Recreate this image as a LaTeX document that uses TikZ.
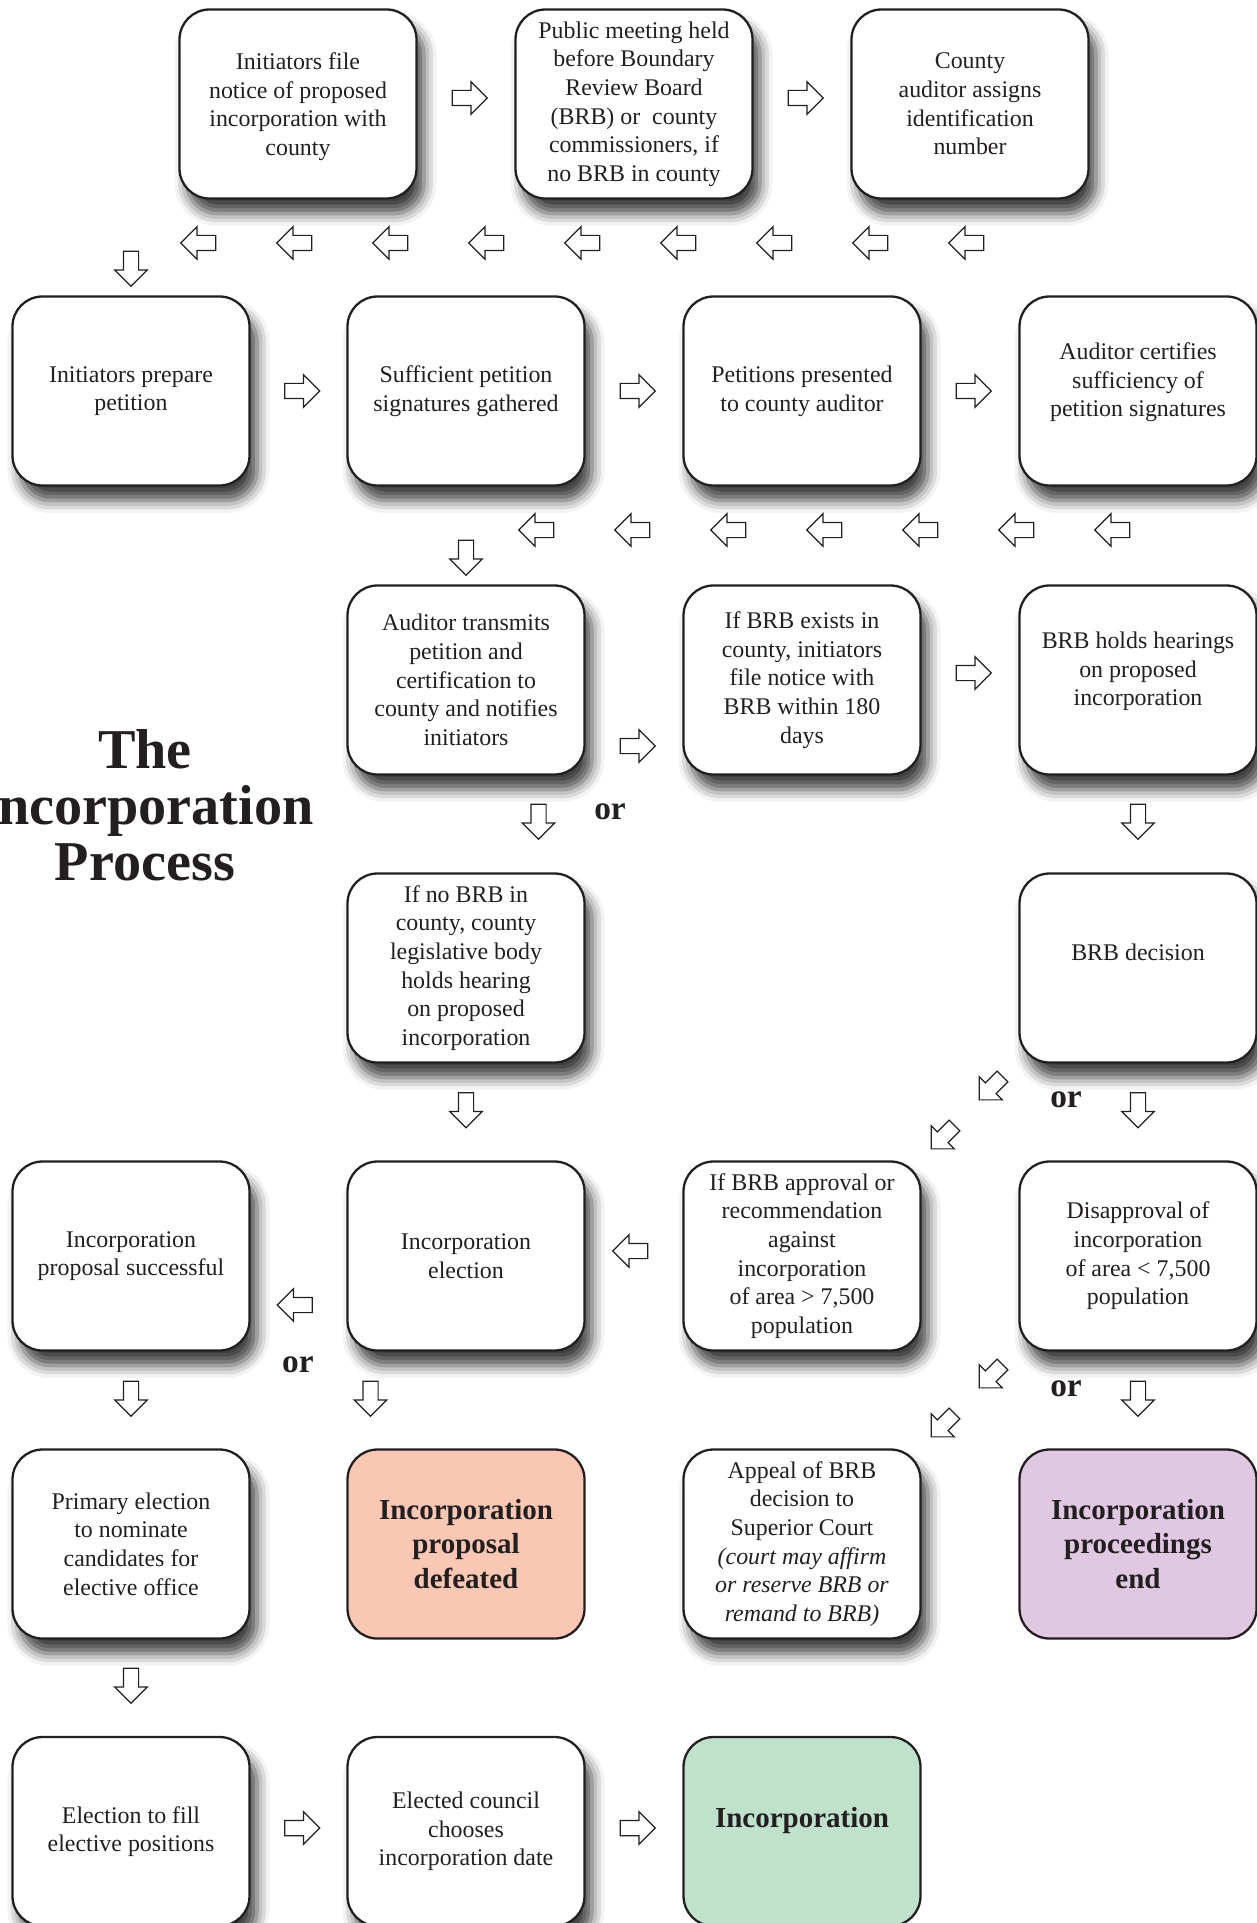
\documentclass[tikz,border=0pt]{standalone}
\usepackage{fontspec}
\setmainfont{Liberation Serif}
\usetikzlibrary{shapes.arrows, positioning, calc, shadows.blur}
\definecolor{inkgray}{RGB}{35, 31, 32}
\definecolor{defeatpink}{RGB}{249, 199, 180}
\definecolor{endlilac}{RGB}{224, 200, 226}
\definecolor{incgreen}{RGB}{192, 226, 204}
\newcommand{\boxfont}{\fontsize{13.6}{16.3}\selectfont}
\newcommand{\finalfont}{\fontsize{16.5}{19.8}\selectfont\bfseries}
\newcommand{\orfont}{\fontsize{19}{22}\selectfont\bfseries}
\newcommand{\headfont}{\fontsize{32}{32}\selectfont\bfseries}

\begin{document}
\begin{tikzpicture}[
  box/.style={draw=inkgray, line width=1.3pt, rounded corners=0.6cm, minimum width=4.74cm, minimum height=3.78cm, align=center, font=\boxfont, text=inkgray},
  plain/.style={box, fill=white, blur shadow={shadow xshift=0.15cm, shadow yshift=-0.3cm, shadow blur radius=0.25cm, shadow opacity=75}},
  goal/.style={box, font=\finalfont},
  blk/.style={single arrow, draw=inkgray, fill=white, line width=0.7pt, inner sep=0.14cm, single arrow head extend=0.175cm, minimum height=0.7cm},
  rarr/.style={blk},
  larr/.style={blk, rotate=180},
  darr/.style={blk, rotate=-90},
  sarr/.style={blk, rotate=225, minimum height=0.66cm},
  ortext/.style={font=\orfont, text=inkgray}
]
  \useasboundingbox (0, 0) rectangle (25.12, -38.46);

  % title
  \node[font=\headfont, text=inkgray, align=center] (title) at (2.9, -16.1) {The\\Incorporation\\Process};

  % top row
  \node[plain, text depth=0.0cm] (notice) at (5.96, -2.08) {Initiators file\\notice of proposed\\incorporation with\\county};
  \node[plain] (meeting) at (12.68, -2.08) {Public meeting held\\before Boundary\\Review Board\\(BRB) or\ \ county\\commissioners, if\\no BRB in county};
  \node[plain, text depth=0.0cm] (idnum) at (19.40, -2.08) {County\\auditor assigns\\identification\\number};
  \node[rarr, yshift=0.12cm] (a1) at ($(notice.east)!0.5!(meeting.west)$) {};
  \node[rarr, yshift=0.12cm] (a2) at ($(meeting.east)!0.5!(idnum.west)$) {};
  \foreach \i in {0,...,8}
    \node[larr] (b\i) at (4.04+1.92*\i, -4.86) {};
  \node[darr] (b9) at (2.62, -5.30) {};

  % petitions
  \node[plain] (prepare) at (2.62, -7.82) {Initiators prepare\\petition};
  \node[plain] (gather) at (9.32, -7.82) {Sufficient petition\\signatures gathered};
  \node[plain] (present) at (16.04, -7.82) {Petitions presented\\to county auditor};
  \node[plain, text depth=0.45cm] (certify) at (22.76, -7.82) {Auditor certifies\\sufficiency of\\petition signatures};
  \node[rarr] (a3) at ($(prepare.east)!0.5!(gather.west)$) {};
  \node[rarr] (a4) at ($(gather.east)!0.5!(present.west)$) {};
  \node[rarr] (a5) at ($(present.east)!0.5!(certify.west)$) {};
  \foreach \i in {0,...,6}
    \node[larr] (c\i) at (10.8+1.92*\i, -10.6) {};
  \node[darr] (c7) at (9.32, -11.08) {};

  % hearings
  \node[plain] (transmit) at (9.32, -13.6) {Auditor transmits\\petition and\\certification to\\county and notifies\\initiators};
  \node[plain] (brbfile) at (16.04, -13.6) {If BRB exists in\\county, initiators\\file notice with\\BRB within 180\\days};
  \node[plain, text depth=0.45cm] (hearing) at (22.76, -13.6) {BRB holds hearings\\on proposed\\incorporation};
  \node[rarr, yshift=-1.32cm] (a6) at ($(transmit.east)!0.5!(brbfile.west)$) {};
  \node[rarr, yshift=0.14cm] (a7) at ($(brbfile.east)!0.5!(hearing.west)$) {};
  \node[darr] (d1) at (10.77, -16.36) {};
  \node[ortext] (or1) at (12.2, -16.24) {or};
  \node[darr] (d2) at (22.76, -16.36) {};

  \node[plain] (nobrb) at (9.32, -19.36) {If no BRB in\\county, county\\legislative body\\holds hearing\\on proposed\\incorporation};
  \node[plain, text depth=0.62cm] (decision) at (22.76, -19.36) {BRB decision};
  \node[darr] (d3) at (9.32, -22.13) {};
  \node[sarr] (s1) at (19.87, -21.71) {};
  \node[sarr] (s2) at (18.91, -22.69) {};
  \node[ortext] (or2) at (21.32, -22.0) {or};
  \node[darr] (d4) at (22.76, -22.13) {};

  % election / BRB outcome
  \node[plain] (success) at (2.62, -25.12) {Incorporation\\proposal successful};
  \node[plain] (election) at (9.32, -25.12) {Incorporation\\election};
  \node[plain] (approval) at (16.04, -25.12) {If BRB approval or\\recommendation\\against\\incorporation\\of area > 7,500\\population};
  \node[plain] (disapprove) at (22.76, -25.12) {Disapproval of\\incorporation\\of area < 7,500\\population};
  \node[larr] (a8) at ($(election.east)!0.5!(approval.west) + (0, 0.1)$) {};
  \node[larr] (a9) at ($(success.east)!0.5!(election.west) + (0, -0.98)$) {};
  \node[ortext] (or3) at (5.96, -27.3) {or};
  \node[darr] (d5) at (2.62, -27.90) {};
  \node[darr] (d6) at (7.41, -27.90) {};
  \node[sarr] (s3) at (19.87, -27.47) {};
  \node[sarr] (s4) at (18.91, -28.45) {};
  \node[ortext] (or4) at (21.32, -27.77) {or};
  \node[darr] (d7) at (22.76, -27.90) {};

  \node[plain] (primary) at (2.62, -30.88) {Primary election\\to nominate\\candidates for\\elective office};
  \node[goal, fill=defeatpink] (defeat) at (9.32, -30.88) {Incorporation\\proposal\\defeated};
  \node[plain] (appeal) at (16.04, -30.88) {Appeal of BRB\\decision to\\Superior Court\\\textit{(court may affirm}\\\textit{or reserve BRB or}\\\textit{remand to BRB)}};
  \node[goal, fill=endlilac] (ends) at (22.76, -30.88) {Incorporation\\proceedings\\end};
  \node[darr] (d8) at (2.62, -33.64) {};

  % final row
  \node[plain] (fill) at (2.62, -36.63) {Election to fill\\elective positions};
  \node[plain] (date) at (9.32, -36.63) {Elected council\\chooses\\incorporation date};
  \node[goal, fill=incgreen, text depth=0.55cm] (incorp) at (16.04, -36.63) {Incorporation};
  \node[rarr, yshift=0.07cm] (a10) at ($(fill.east)!0.5!(date.west)$) {};
  \node[rarr, yshift=0.07cm] (a11) at ($(date.east)!0.5!(incorp.west)$) {};
\end{tikzpicture}
\end{document}
